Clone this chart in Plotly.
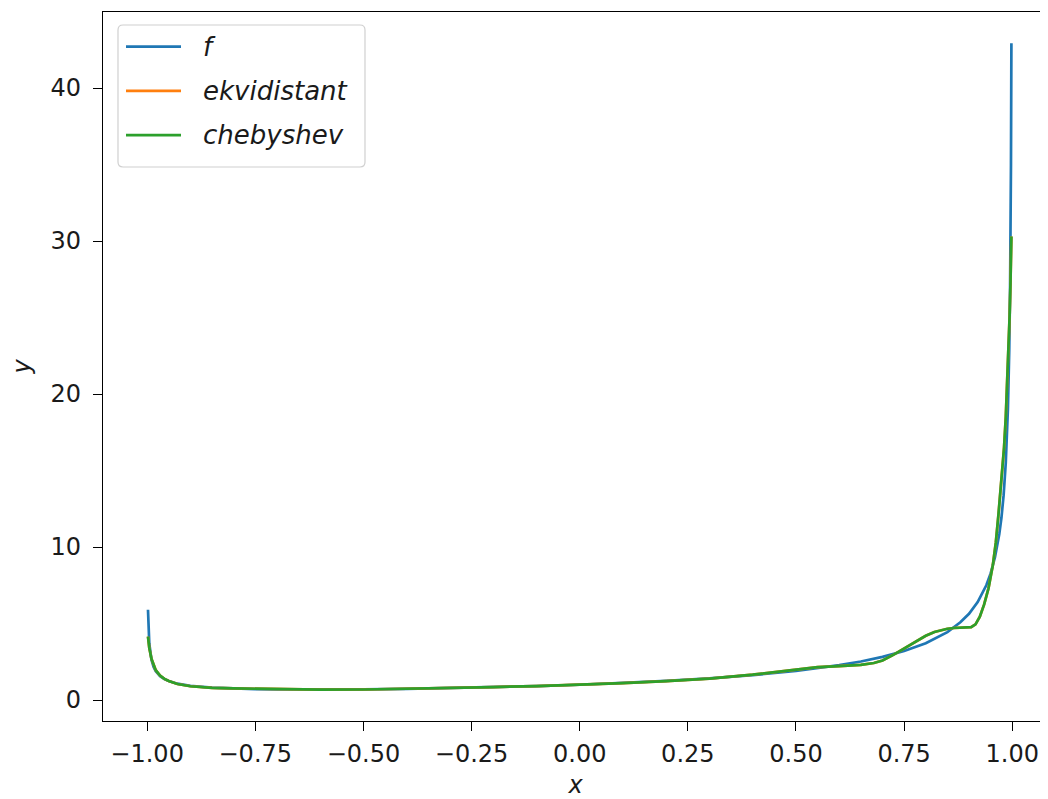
import plotly.graph_objects as go

# sample positions (x) for the exact function f
x_f = [-0.998, -0.995, -0.99, -0.985, -0.98, -0.97, -0.96, -0.95, -0.93, -0.9,
       -0.85, -0.8, -0.75, -0.7, -0.6, -0.5, -0.4, -0.3, -0.2, -0.1,
       0.0, 0.1, 0.2, 0.3, 0.4, 0.5, 0.6, 0.65, 0.7, 0.75,
       0.8, 0.85, 0.88, 0.9, 0.92, 0.94, 0.95, 0.96, 0.97, 0.975,
       0.98, 0.985, 0.99, 0.993, 0.995, 0.997, 0.998]
y_f = [5.9, 3.70, 2.63, 2.16, 1.89, 1.56, 1.37, 1.24, 1.07, 0.93,
       0.81, 0.75, 0.71, 0.70, 0.69, 0.70, 0.73, 0.78, 0.84, 0.91,
       1.00, 1.11, 1.25, 1.42, 1.63, 1.90, 2.28, 2.52, 2.82, 3.20,
       3.71, 4.44, 5.08, 5.64, 6.40, 7.50, 8.28, 9.33, 10.85, 11.93,
       13.39, 15.52, 19.07, 22.86, 27.08, 35.01, 42.92]

# interpolants (equidistant is drawn underneath and hidden by chebyshev)
x_int = [-0.998, -0.995, -0.99, -0.985, -0.98, -0.97, -0.96, -0.95, -0.93, -0.9,
         -0.85, -0.8, -0.75, -0.7, -0.6, -0.5, -0.4, -0.3, -0.2, -0.1,
         0.0, 0.1, 0.2, 0.3, 0.4, 0.5, 0.55, 0.6, 0.65, 0.68,
         0.7, 0.725, 0.75, 0.77, 0.786, 0.80, 0.82, 0.835, 0.85, 0.865,
         0.88, 0.895, 0.905, 0.915, 0.925, 0.935, 0.945, 0.955, 0.962, 0.968,
         0.975, 0.981, 0.985, 0.99, 0.994, 0.996, 0.998]
y_ekv = [4.15, 3.40, 2.70, 2.25, 1.95, 1.60, 1.38, 1.24, 1.05, 0.90,
         0.80, 0.76, 0.73, 0.70, 0.68, 0.69, 0.73, 0.79, 0.85, 0.91,
         0.99, 1.10, 1.24, 1.40, 1.66, 1.98, 2.15, 2.22, 2.30, 2.42,
         2.58, 2.95, 3.35, 3.70, 3.98, 4.20, 4.45, 4.58, 4.66, 4.71,
         4.72, 4.72, 4.76, 4.95, 5.45, 6.25, 7.30, 8.80, 10.30, 12.10,
         14.30, 16.50, 18.50, 21.70, 25.20, 27.40, 30.30]
y_cheb = [4.15, 3.40, 2.70, 2.25, 1.95, 1.60, 1.38, 1.24, 1.05, 0.90,
          0.80, 0.76, 0.73, 0.70, 0.68, 0.69, 0.73, 0.79, 0.85, 0.91,
          0.99, 1.10, 1.24, 1.40, 1.66, 1.98, 2.15, 2.22, 2.30, 2.42,
          2.58, 2.95, 3.35, 3.70, 3.98, 4.20, 4.45, 4.58, 4.66, 4.71,
          4.72, 4.72, 4.76, 4.95, 5.45, 6.25, 7.30, 8.80, 10.30, 12.10,
          14.30, 16.50, 18.50, 21.70, 25.20, 27.40, 30.30]

series_names = ["f", "ekvidistant", "chebyshev"]
series_colors = ["#1f77b4", "#ff7f0e", "#2ca02c"]

x_ticks = [-1.0, -0.75, -0.5, -0.25, 0.0, 0.25, 0.5, 0.75, 1.0]
x_ticktext = ["\u22121.00", "\u22120.75", "\u22120.50", "\u22120.25", "0.00",
              "0.25", "0.50", "0.75", "1.00"]
y_ticks = [0, 10, 20, 30, 40]

FONT = "DejaVu Sans"
LW = 2.7
OFF = 8  # page body margin of the html page
W, H = 1048 - OFF, 799 - OFF
ML, MR, MT, MB = 103 - OFF, 0, 12 - OFF, 78
PW, PH = W - ML - MR, H - MT - MB


def px(xp):  # page pixel -> paper
    return (xp - OFF - ML) / PW


def py(yp):
    return 1 - (yp - OFF - MT) / PH


fig = go.Figure()
for xs, ys, nm, col in [(x_f, y_f, series_names[0], series_colors[0]),
                        (x_int, y_ekv, series_names[1], series_colors[1]),
                        (x_int, y_cheb, series_names[2], series_colors[2])]:
    fig.add_trace(go.Scatter(x=xs, y=ys, mode="lines", name=nm, showlegend=False,
                             line=dict(color=col, width=LW)))

# legend drawn matplotlib-style (box, long line samples, italic labels)
shapes = []
bx0, bx1, by0, by1 = px(118), px(365), py(25), py(167)
rx, ry = 5 / PW, 5 / PH
path = (f"M{bx0+rx},{by0} L{bx1-rx},{by0} Q{bx1},{by0} {bx1},{by0-ry} "
        f"L{bx1},{by1+ry} Q{bx1},{by1} {bx1-rx},{by1} L{bx0+rx},{by1} "
        f"Q{bx0},{by1} {bx0},{by1+ry} L{bx0},{by0-ry} Q{bx0},{by0} {bx0+rx},{by0} Z")
shapes.append(dict(type="path", xref="paper", yref="paper", path=path,
                   fillcolor="rgba(255,255,255,0.8)", line=dict(color="#d0d0d0", width=1.2),
                   layer="above"))
annotations = []
for i, (nm, col) in enumerate(zip(series_names, series_colors)):
    yy = py(46.7 + i * 44.2)
    shapes.append(dict(type="line", xref="paper", yref="paper",
                       x0=px(126), x1=px(181), y0=yy, y1=yy,
                       line=dict(color=col, width=LW), layer="above"))
    annotations.append(dict(text=nm, xref="paper", yref="paper", x=px(201), y=yy,
                            xanchor="left", yanchor="middle", showarrow=False,
                            font=dict(family=FONT, size=26, style="italic", color="#1a1a1a")))

fig.update_layout(
    width=W, height=H,
    margin=dict(l=ML, r=MR, t=MT, b=MB),
    paper_bgcolor="white", plot_bgcolor="white",
    font=dict(family=FONT, size=24, color="#000000"),
    showlegend=False,
    shapes=shapes, annotations=annotations,
    xaxis=dict(range=[-1.102, 1.0826], tickmode="array", tickvals=x_ticks,
               ticktext=x_ticktext, showgrid=False, zeroline=False, automargin=False,
               showline=True, linecolor="black", linewidth=1.3, mirror=True,
               ticks="outside", ticklen=9, tickwidth=1.3, tickcolor="black",
               ticklabelstandoff=2,
               tickfont=dict(family=FONT, size=24, color="#1a1a1a"),
               title=dict(text="x", font=dict(family=FONT, size=24, style="italic",
                                              color="#1a1a1a"),
                          standoff=10)),
    yaxis=dict(range=[-1.37, 44.97], tickmode="array", tickvals=y_ticks,
               showgrid=False, zeroline=False, automargin=False,
               showline=True, linecolor="black", linewidth=1.3, mirror=False,
               ticks="outside", ticklen=9, tickwidth=1.3, tickcolor="black",
               ticklabelstandoff=7,
               tickfont=dict(family=FONT, size=24, color="#1a1a1a"),
               title=dict(text="y", font=dict(family=FONT, size=24, style="italic",
                                              color="#1a1a1a"),
                          standoff=21)),
)

fig.write_html("out.html")
